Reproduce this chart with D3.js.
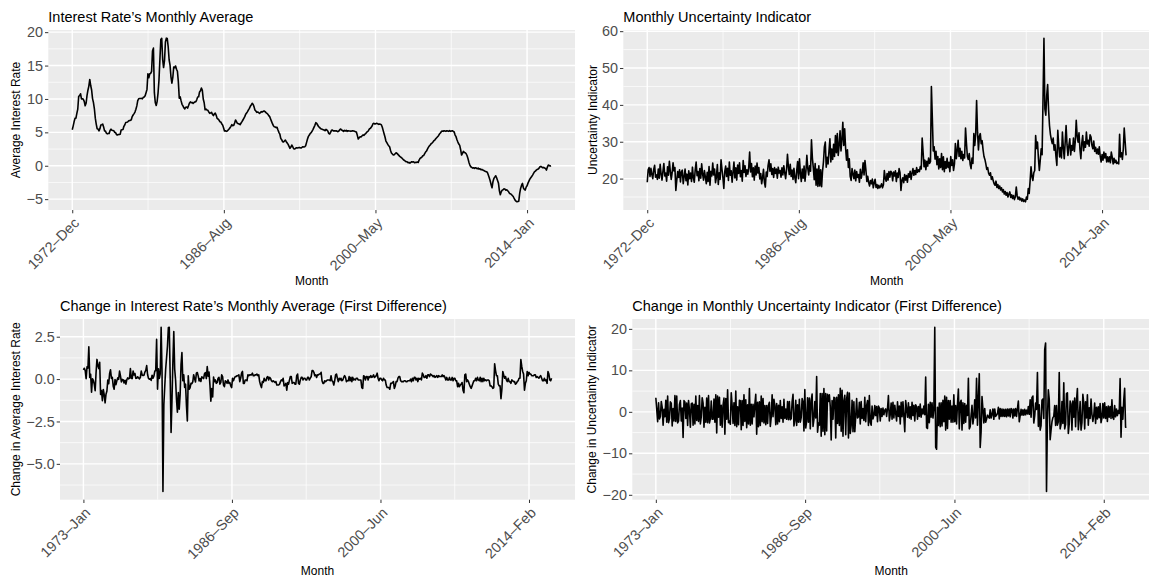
<!DOCTYPE html>
<html>
<head>
<meta charset="utf-8">
<title>Interest rate and uncertainty indicator</title>
<script src="https://cdn.jsdelivr.net/npm/d3@7"></script>
<style>
  body { margin: 0; background: #fff; }
  svg { display: block; font-family: "Liberation Sans", Arial, Helvetica, sans-serif; }
  .panel-bg { fill: #ebebeb; }
  .grid-major { stroke: #fff; stroke-width: 1.4px; }
  .grid-minor { stroke: #fff; stroke-width: 0.7px; }
  .axis .domain { display: none; }
  .axis .tick line { stroke: #333; stroke-width: 1px; }
  .axis .tick text { fill: #4d4d4d; font-size: 14.4px; font-family: "Liberation Sans", Arial, Helvetica, sans-serif; }
  .series { fill: none; stroke: #000; stroke-width: 1.6px; stroke-linejoin: round; }
  .plot-title { font-size: 14.5px; fill: #000; }
  .axis-title { font-size: 12px; fill: #000; }
</style>
</head>
<body>
<svg width="1149" height="578"></svg>
<script>
// monthly values, 1972-Dec .. 2016-Mar (one row per year)
const interestRate = [
  5.40,
  5.94, 6.58, 7.09, 7.12, 7.84, 8.49, 10.40, 10.50, 10.78, 10.01, 10.03, 9.95,
  9.65, 8.97, 9.35, 10.51, 11.31, 11.93, 12.92, 12.01, 11.34, 10.06, 9.45, 8.53,
  7.13, 6.24, 5.54, 5.49, 5.22, 5.55, 6.10, 6.14, 6.24, 5.82, 5.22, 5.20,
  4.87, 4.77, 4.84, 4.82, 5.29, 5.48, 5.31, 5.29, 5.25, 5.02, 4.95, 4.65,
  4.61, 4.68, 4.69, 4.73, 5.35, 5.39, 5.42, 5.90, 6.14, 6.47, 6.51, 6.56,
  6.70, 6.78, 6.79, 6.89, 7.36, 7.60, 7.81, 8.04, 8.45, 8.96, 9.76, 10.03,
  10.07, 10.06, 10.09, 10.01, 10.24, 10.29, 10.47, 10.94, 11.43, 13.77, 13.18, 13.78,
  13.82, 14.13, 17.19, 17.61, 10.98, 9.47, 9.03, 9.61, 10.87, 12.81, 15.85, 18.90,
  19.08, 15.93, 14.70, 15.72, 18.52, 19.10, 19.04, 17.82, 15.87, 15.08, 13.31, 12.37,
  13.22, 14.78, 14.68, 14.94, 14.45, 14.15, 12.59, 10.12, 10.31, 9.71, 9.20, 8.95,
  8.68, 8.51, 8.77, 8.80, 8.63, 8.98, 9.37, 9.56, 9.45, 9.48, 9.34, 9.47,
  9.56, 9.59, 9.91, 10.29, 10.32, 11.06, 11.23, 11.64, 11.30, 9.99, 9.43, 8.38,
  8.50, 8.35, 8.30, 8.05, 7.85, 7.90, 8.00, 7.70, 7.50, 7.75, 7.90, 7.55,
  7.10, 7.00, 6.85, 6.60, 6.55, 6.30, 6.10, 5.70, 5.20, 5.25, 5.15, 5.20,
  5.35, 5.50, 5.70, 5.90, 6.15, 6.00, 6.05, 6.40, 6.85, 6.60, 6.35, 6.30,
  6.25, 6.15, 6.40, 6.60, 6.85, 7.10, 7.35, 7.70, 7.90, 8.10, 8.35, 8.60,
  8.90, 9.10, 9.35, 9.20, 8.85, 8.35, 8.20, 8.00, 8.05, 7.95, 7.85, 7.95,
  8.10, 8.05, 8.15, 8.20, 8.10, 7.95, 7.85, 7.70, 7.50, 7.35, 7.00, 6.65,
  6.30, 6.00, 5.85, 5.80, 5.70, 5.75, 5.35, 5.00, 4.75, 4.10, 3.90, 3.60,
  3.55, 3.70, 3.85, 3.60, 3.40, 3.20, 2.90, 2.60, 2.80, 3.10, 2.85, 2.55,
  2.50, 2.60, 2.70, 2.65, 2.70, 2.75, 2.70, 2.65, 2.75, 2.85, 2.80, 2.85,
  3.00, 3.50, 4.00, 4.40, 4.60, 4.85, 4.95, 5.20, 5.45, 5.75, 6.05, 6.45,
  6.35, 6.10, 5.85, 5.75, 5.60, 5.50, 5.45, 5.40, 5.35, 5.25, 5.45, 5.35,
  5.20, 4.85, 4.75, 5.00, 5.30, 5.35, 5.20, 5.25, 5.20, 5.25, 5.15, 5.10,
  5.20, 5.40, 5.50, 5.35, 5.25, 5.15, 5.30, 5.20, 5.30, 5.15, 5.25, 5.20,
  5.20, 5.15, 5.20, 5.25, 5.20, 5.15, 5.10, 5.05, 4.55, 4.00, 4.20, 4.35,
  4.30, 4.45, 4.60, 4.55, 4.70, 4.80, 5.00, 5.10, 5.25, 5.50, 5.60, 5.75,
  5.95, 6.30, 6.35, 6.25, 6.30, 6.35, 6.30, 6.20, 6.25, 6.20, 6.15, 5.80,
  5.30, 4.80, 4.30, 3.70, 3.45, 3.20, 3.00, 2.85, 2.30, 1.90, 1.75, 1.60,
  1.65, 1.80, 1.95, 1.85, 1.70, 1.55, 1.40, 1.30, 1.20, 1.05, 0.90, 0.80,
  0.70, 0.60, 0.60, 0.45, 0.50, 0.40, 0.50, 0.60, 0.55, 0.60, 0.45, 0.50,
  0.50, 0.55, 0.50, 0.85, 1.10, 1.20, 1.30, 1.50, 1.55, 1.80, 2.05, 2.20,
  2.50, 2.75, 2.95, 3.10, 3.30, 3.40, 3.55, 3.75, 3.85, 4.05, 4.20, 4.35,
  4.50, 4.75, 4.90, 5.10, 5.20, 5.15, 5.25, 5.20, 5.15, 5.25, 5.20, 5.15,
  5.25, 5.15, 5.20, 5.25, 5.15, 5.05, 4.60, 4.35, 3.90, 3.55, 3.25, 3.05,
  2.40, 1.60, 1.85, 2.15, 2.00, 1.95, 1.80, 1.50, 1.05, 0.50, 0.10, -0.15,
  -0.25, -0.35, -0.30, -0.40, -0.30, -0.35, -0.45, -0.35, -0.50, -0.45, -0.60, -0.55,
  -0.65, -0.70, -0.80, -0.85, -0.90, -1.00, -1.40, -1.80, -2.25, -2.80, -3.30, -2.40,
  -1.90, -1.70, -1.50, -1.80, -2.20, -2.60, -3.75, -4.35, -3.90, -3.65, -3.60, -3.45,
  -3.50, -3.65, -3.60, -3.75, -3.90, -4.15, -4.20, -4.30, -4.45, -4.60, -4.90, -5.15,
  -5.30, -5.40, -5.35, -5.30, -4.15, -3.40, -2.95, -2.65, -3.30, -3.55, -3.65, -3.20,
  -3.00, -2.60, -2.30, -2.00, -1.80, -1.60, -1.40, -1.15, -0.90, -0.80, -0.65, -0.55,
  -0.50, -0.35, -0.15, -0.10, -0.20, -0.30, -0.25, -0.35, -0.40, -0.65, -0.20, 0.10,
  0.05, -0.05, 0.00
];

const uncertainty = [
  19.0,
  22.4, 23.0, 20.6, 22.8, 21.1, 20.0, 22.5, 23.6, 20.4, 21.0, 19.8, 22.6,
  20.1, 23.9, 21.3, 19.6, 22.0, 24.1, 20.7, 21.5, 19.3, 23.2, 20.9, 24.7,
  22.0, 19.8, 21.6, 24.3, 22.1, 23.0, 16.8, 19.5, 21.9, 20.3, 22.4, 19.1,
  21.8, 22.3, 18.6, 20.5, 22.6, 19.4, 21.2, 18.3, 22.1, 20.0, 21.5, 19.2,
  23.1, 20.2, 19.0, 22.4, 24.5, 20.8, 21.9, 19.4, 22.7, 20.1, 24.0, 21.3,
  19.6, 22.2, 20.4, 18.6, 21.7, 19.2, 23.3, 18.2, 22.0, 20.7, 24.2, 21.0,
  22.6, 18.9, 20.5, 23.8, 18.4, 21.6, 19.8, 25.1, 22.5, 20.3, 17.3, 21.9,
  23.4, 20.6, 22.8, 19.5, 24.5, 20.9, 22.1, 19.0, 21.8, 24.5, 20.2, 22.9,
  19.6, 23.7, 21.4, 24.3, 20.5, 22.2, 19.3, 24.9, 21.7, 23.5, 20.6, 22.4,
  21.2, 23.0, 27.2, 21.8, 24.1, 20.5, 22.9, 19.6, 23.4, 21.0, 24.2, 21.5,
  23.0, 19.9, 21.4, 18.6, 20.2, 22.5, 19.0, 17.7, 21.8, 20.6, 23.6, 25.1,
  22.0, 24.0, 21.1, 22.7, 20.3, 23.0, 21.4, 22.6, 20.1, 23.1, 21.5, 22.2,
  20.4, 22.9, 21.0, 23.5, 21.6, 20.0, 22.4, 26.6, 23.2, 21.1, 23.9, 20.6,
  22.3, 19.8, 22.8, 20.3, 18.9, 22.1, 24.6, 20.0, 25.4, 21.5, 19.2, 22.6,
  20.1, 23.4, 19.3, 22.0, 26.3, 22.8, 21.0, 23.5, 22.0, 30.5, 25.6, 22.9,
  19.7, 24.1, 18.2, 22.6, 17.9, 23.5, 18.0, 22.4, 17.8, 22.0, 24.5, 28.6,
  29.9, 23.1, 25.8, 24.0, 27.5, 30.8, 24.5, 28.0, 25.2, 29.3, 26.0, 31.7,
  27.0, 32.2, 26.3, 29.0, 33.0, 27.5, 30.6, 35.3, 29.0, 33.5, 28.3, 25.0,
  27.8, 23.0, 25.4, 20.6, 19.5, 22.7, 21.2, 20.0, 22.3, 19.4, 21.9, 20.3,
  21.1, 19.0, 22.5, 20.1, 21.6, 24.3, 21.0, 24.9, 22.4, 19.2, 20.6, 18.9,
  18.0, 19.5, 18.6, 19.9, 17.5, 18.9, 19.8, 17.6, 18.4, 17.3, 18.2, 17.5,
  17.9, 18.6, 17.5, 18.3, 22.2, 20.0, 19.3, 21.4, 19.6, 21.9, 20.4, 22.0,
  21.6, 19.4, 21.8, 20.7, 22.1, 19.2, 21.5, 20.3, 22.7, 21.6, 16.8, 19.5,
  20.2, 18.9, 21.1, 19.6, 20.8, 19.0, 21.3, 20.4, 22.0, 19.8, 21.5, 22.7,
  20.9, 22.2, 21.1, 23.0, 21.7, 22.4, 21.9, 23.3, 22.6, 31.0, 27.2, 23.2,
  25.0, 22.4, 24.7, 23.4, 25.6, 24.1, 24.6, 45.0, 36.5, 27.5, 28.6, 25.3,
  27.4, 23.8, 26.0, 22.6, 25.4, 23.0, 26.8, 22.4, 25.9, 21.9, 24.6, 22.8,
  25.5, 23.0, 24.4, 21.9, 26.0, 23.6, 25.1, 22.2, 24.0, 29.5, 25.4, 27.6,
  30.4, 26.0, 28.2, 25.4, 27.4, 24.9, 26.5, 25.6, 33.7, 29.6, 26.0, 25.2,
  26.8, 23.9, 22.7, 25.6, 24.1, 32.2, 29.0, 32.0, 41.2, 32.6, 27.8, 31.5,
  32.2, 29.5, 30.3, 27.8, 26.0, 25.2, 24.0, 22.5, 23.0, 21.5, 20.9, 21.6,
  19.8, 20.5, 19.4, 18.6, 18.2, 19.3, 17.6, 18.4, 17.3, 18.0, 16.9, 17.5,
  16.4, 17.0, 15.8, 16.5, 15.5, 16.2, 15.0, 15.8, 16.4, 14.9, 15.6, 14.6,
  15.4, 14.3, 15.1, 17.7, 15.3, 14.4, 15.0, 14.2, 14.7, 13.9, 14.5, 13.8,
  14.2, 13.7, 15.0, 14.4, 17.3, 16.0, 19.4, 23.2, 20.5, 19.5, 21.6, 22.2,
  31.7, 28.2, 29.9, 25.5, 22.2, 25.0, 28.1, 26.5, 41.5, 58.1, 38.9, 37.2,
  42.5, 45.5, 38.8, 34.4, 32.0, 30.6, 29.5, 31.0, 27.7, 29.2, 26.0, 23.6,
  33.1, 29.0, 25.9, 28.4, 25.6, 32.6, 28.5, 25.4, 29.8, 34.4, 29.2, 26.3,
  28.9, 30.8, 26.4, 29.0, 27.7, 31.0, 27.4, 30.2, 35.8, 31.5, 29.9, 32.4,
  28.0, 25.4, 29.6, 31.7, 27.6, 30.0, 28.5, 32.6, 29.4, 30.4, 28.8, 31.9,
  31.3, 29.0, 28.1, 30.2, 27.4, 28.5, 26.8, 28.0, 26.6, 28.6, 26.0, 24.5,
  26.5, 25.0, 27.2, 25.6, 26.8, 24.5, 25.9, 24.6, 25.9, 24.3, 27.2, 25.8,
  24.0, 25.5, 24.3, 25.0, 24.1, 24.4, 24.0, 32.0, 25.9, 27.0, 25.2, 28.0,
  33.7, 30.0, 26.3
];

// x breaks, in months from the first observation of each series
const tickMonths = [0, 164.33, 328.67, 493];
const levelTickLabels = ["1972–Dec", "1986–Aug", "2000–May", "2014–Jan"];
const diffTickLabels = ["1973–Jan", "1986–Sep", "2000–Jun", "2014–Feb"];

// first differences
const interestDiff = d3.pairs(interestRate, (a, b) => b - a);
const uncertaintyDiff = d3.pairs(uncertainty, (a, b) => b - a);

const svg = d3.select("svg");

function minorBreaks(major, domain) {
  const step = major[1] - major[0];
  const out = [];
  for (let i = -1; i < major.length; i++) {
    const m = (i < 0 ? major[0] - step : major[i]) + step / 2;
    if (m >= domain[0] && m <= domain[1]) out.push(m);
  }
  return out;
}

function drawPanel(p) {
  const n = p.values.length;
  const x = d3.scaleLinear()
    .domain([-(n - 1) * 0.05, (n - 1) * 1.05])
    .range([p.left, p.right]);
  const ext = d3.extent(p.values);
  const pad = (ext[1] - ext[0]) * 0.05;
  const y = d3.scaleLinear()
    .domain([ext[0] - pad, ext[1] + pad])
    .range([p.bottom, p.top]);

  const g = svg.append("g");

  g.append("rect")
    .attr("class", "panel-bg")
    .attr("x", p.left)
    .attr("y", p.top)
    .attr("width", p.right - p.left)
    .attr("height", p.bottom - p.top);

  const xMinor = minorBreaks(tickMonths, x.domain());
  const yMinor = minorBreaks(p.yTicks, y.domain());

  g.selectAll(".ymin").data(yMinor).enter().append("line")
    .attr("class", "grid-minor")
    .attr("x1", p.left).attr("x2", p.right)
    .attr("y1", d => y(d)).attr("y2", d => y(d));
  g.selectAll(".xmin").data(xMinor).enter().append("line")
    .attr("class", "grid-minor")
    .attr("y1", p.top).attr("y2", p.bottom)
    .attr("x1", d => x(d)).attr("x2", d => x(d));
  g.selectAll(".ymaj").data(p.yTicks).enter().append("line")
    .attr("class", "grid-major")
    .attr("x1", p.left).attr("x2", p.right)
    .attr("y1", d => y(d)).attr("y2", d => y(d));
  g.selectAll(".xmaj").data(tickMonths).enter().append("line")
    .attr("class", "grid-major")
    .attr("y1", p.top).attr("y2", p.bottom)
    .attr("x1", d => x(d)).attr("x2", d => x(d));

  const line = d3.line()
    .x((d, i) => x(i))
    .y(d => y(d));

  g.append("path")
    .datum(p.values)
    .attr("class", "series")
    .attr("d", line);

  // x axis
  const xAxis = d3.axisBottom(x)
    .tickValues(tickMonths)
    .tickFormat((d, i) => p.xLabels[i])
    .tickSize(3.3)
    .tickSizeOuter(0);

  const gx = g.append("g")
    .attr("class", "axis")
    .attr("transform", `translate(0,${p.bottom})`)
    .call(xAxis);
  gx.selectAll(".tick text")
    .attr("x", 0)
    .attr("y", 0)
    .attr("dy", "0.72em")
    .attr("text-anchor", "end")
    .attr("transform", "translate(0,6.6) rotate(-45)");

  // y axis
  const yAxis = d3.axisLeft(y)
    .tickValues(p.yTicks)
    .tickFormat(p.yFormat)
    .tickSize(3.3)
    .tickPadding(2)
    .tickSizeOuter(0);

  g.append("g")
    .attr("class", "axis")
    .attr("transform", `translate(${p.left},0)`)
    .call(yAxis);

  // titles
  g.append("text")
    .attr("class", "plot-title")
    .attr("x", p.left)
    .attr("y", p.top - 8.3)
    .text(p.title);

  g.append("text")
    .attr("class", "axis-title")
    .attr("x", (p.left + p.right) / 2)
    .attr("y", p.bottom + 75)
    .attr("text-anchor", "middle")
    .text("Month");

  g.append("text")
    .attr("class", "axis-title")
    .attr("transform", `translate(${p.yTitleX},${(p.top + p.bottom) / 2}) rotate(-90)`)
    .attr("text-anchor", "middle")
    .text(p.yTitle);
}

const minus = s => s.replace("-", "\u2212");

drawPanel({
  values: interestRate,
  left: 48.3, right: 575, top: 30, bottom: 210, yTitleX: 20.3,
  yTicks: [-5, 0, 5, 10, 15, 20],
  yFormat: d => minus(d3.format("d")(d)),
  xLabels: levelTickLabels,
  title: "Interest Rate’s Monthly Average",
  yTitle: "Average Interest Rate"
});

drawPanel({
  values: uncertainty,
  left: 623.3, right: 1150, top: 30, bottom: 210, yTitleX: 596.8,
  yTicks: [20, 30, 40, 50, 60],
  yFormat: d => d3.format("d")(d),
  xLabels: levelTickLabels,
  title: "Monthly Uncertainty Indicator",
  yTitle: "Uncertainty Indicator"
});

drawPanel({
  values: interestDiff,
  left: 60, right: 575, top: 319, bottom: 499.7, yTitleX: 19.8,
  yTicks: [-5, -2.5, 0, 2.5],
  yFormat: d => minus(d3.format(".1f")(d)),
  xLabels: diffTickLabels,
  title: "Change in Interest Rate’s Monthly Average (First Difference)",
  yTitle: "Change in Average Interest Rate"
});

drawPanel({
  values: uncertaintyDiff,
  left: 632.3, right: 1150, top: 319, bottom: 499.7, yTitleX: 596.3,
  yTicks: [-20, -10, 0, 10, 20],
  yFormat: d => minus(d3.format("d")(d)),
  xLabels: diffTickLabels,
  title: "Change in Monthly Uncertainty Indicator (First Difference)",
  yTitle: "Change in Uncertainty Indicator"
});
</script>
</body>
</html>
